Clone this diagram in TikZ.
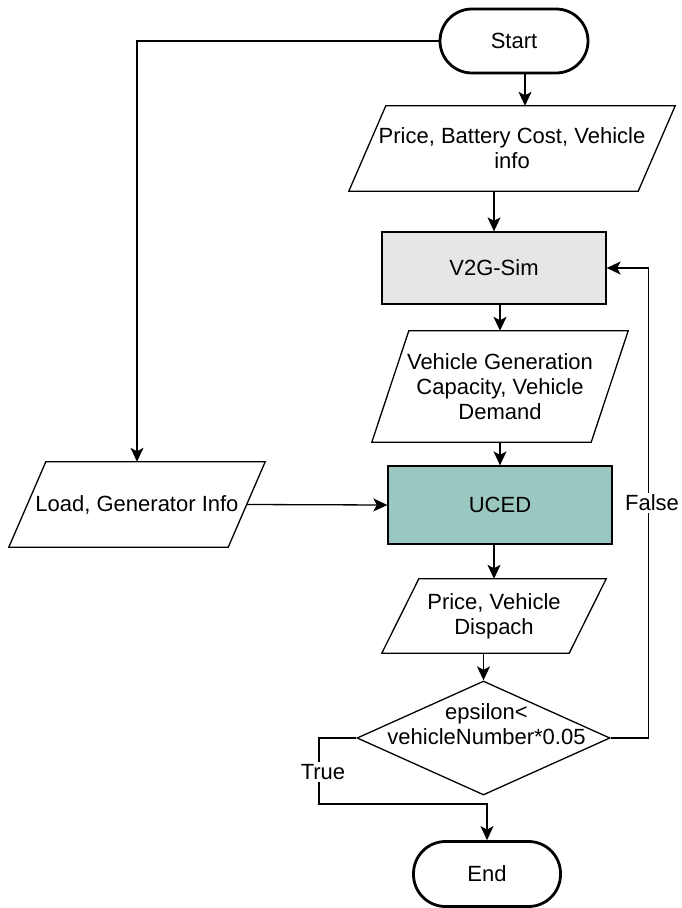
\documentclass[tikz,border=0pt]{standalone}
\usepackage{fontspec}
\setmainfont{Liberation Sans}
\usetikzlibrary{arrows.meta,shapes.geometric}
\definecolor{simgray}{HTML}{E6E6E6}
\definecolor{ucedteal}{HTML}{9AC7BF}
\tikzset{
  txt/.style={font=\fontsize{22}{25}\selectfont, align=center, inner sep=0pt},
  term/.style={txt, draw, line width=2.8pt, rectangle, rounded corners=32pt, minimum width=148pt, minimum height=64pt},
  proc/.style={txt, draw, line width=1.3pt, minimum width=224pt},
  io/.style={txt},
  arr/.style={line width=1.3pt, -{Stealth[length=14pt,width=13pt,inset=3.5pt]}},
  lbl/.style={txt, fill=white, inner sep=2pt},
}
% slanted outline round an io node
\newcommand{\ioframe}[1]{\draw[line width=1.3pt] ([xshift=-18.5pt]#1.south west) -- ([xshift=-18.5pt]#1.south east) -- ([xshift=18.5pt]#1.north east) -- ([xshift=18.5pt]#1.north west) -- cycle;}
\begin{document}
\begin{tikzpicture}[x=1pt,y=-1pt]
\useasboundingbox (0,0) rectangle (682,908);
\node[term] (start) at (514,41) {Start};
\node[io, minimum width=289pt, minimum height=85pt] (inp1) at (512,148.5) {Price, Battery Cost, Vehicle\\info}; \ioframe{inp1}
\node[proc, fill=simgray, minimum height=72pt] (v2g) at (494,268) {V2G-Sim};
\node[io, minimum width=219pt, minimum height=111pt] (inp2) at (500,386.5) {Vehicle Generation\\Capacity, Vehicle\\Demand}; \ioframe{inp2}
\node[proc, fill=ucedteal, minimum height=78pt] (uced) at (500,505) {UCED};
\node[io, minimum width=219pt, minimum height=85pt] (load) at (137,504.5) {Load, Generator Info}; \ioframe{load}
\node[io, minimum width=187pt, minimum height=74pt] (inp3) at (494,616) {Price, Vehicle\\Dispach}; \ioframe{inp3}
\node[draw, diamond, line width=1.3pt, minimum width=253pt, minimum height=114pt, inner sep=0pt,
  label={[txt, xshift=3pt, yshift=14pt]center:epsilon<\\vehicleNumber*0.05}] (check) at (483.5,738) {}; %test
\node[term, minimum width=147pt, minimum height=65pt] (end) at (487,874) {End};
% flow
\draw[arr] (start.west) -| (load.north);
\draw[arr] ([xshift=11pt]start.south) -- ([xshift=11pt]start.south |- inp1.north);
\draw[arr] (v2g.north |- inp1.south) -- (v2g.north);
\draw[arr] (inp2.north |- v2g.south) -- (inp2.north);
\draw[arr] (inp2.south) -- (uced.north);
\draw[arr] (load.east) -- (uced.west);
\draw[arr] (inp3.north |- uced.south) -- (inp3.north);
\draw[arr] (check.north |- inp3.south) -- (check.north);
\draw[arr] (check.east) -- ++(38,0) |- (v2g.east); %false
\coordinate (truebend) at (319,804);
\draw[arr] (check.west) -| (truebend) -| (end.north); %true
\node[lbl] (falselbl) at (652,503) {False};
\node[lbl] (truelbl) at (323,772) {True};
\end{tikzpicture}
\end{document}
